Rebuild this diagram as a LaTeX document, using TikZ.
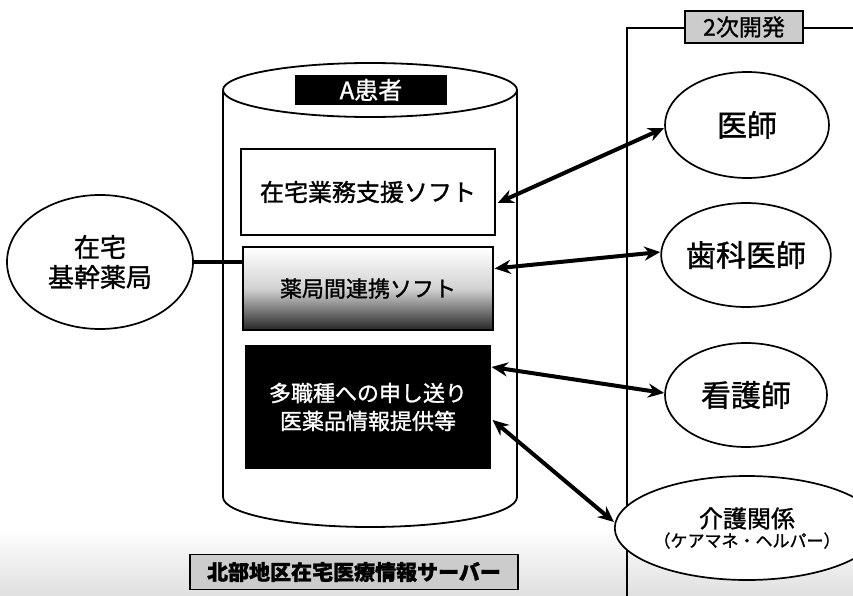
\documentclass[tikz,border=0pt]{standalone}
\usepackage{fontspec}
\setmainfont{Noto Sans CJK JP}[FakeBold=1.2]
\usetikzlibrary{arrows.meta,shapes.geometric}
\begin{document}
\begin{tikzpicture}[x=1pt,y=1pt,
  oval/.style={draw,line width=1.7pt,ellipse,inner sep=0pt,fill=white},
  whitebox/.style={draw,line width=1.3pt,inner sep=0pt,fill=white},
  blackbox/.style={draw,line width=1.2pt,fill=black,text=white,inner sep=0pt,align=center},
  grainbox/.style={draw,line width=1.8pt,fill=gray!40,inner sep=0pt},
  link/.style={line width=4pt,{Stealth[length=16pt,width=14pt]}-{Stealth[length=16pt,width=14pt]}},
  thickline/.style={line width=3.6pt},
  frame/.style={line width=1.5pt}]
\useasboundingbox (0,0) rectangle (853,-596);
\fill[white] (0,0) rectangle (853,-596);
% speckled ground at the bottom
\shade[top color=white,bottom color=gray!25] (0,-528) rectangle (853,-596);

% frame of the second development
\draw[frame] (853,-28) -- (627,-28) -- (627,-596);
\node[grainbox,minimum width=118pt,minimum height=32pt,font=\fontsize{23}{26}\selectfont] (dev) at (744,-27) {2次開発};

% cylinder (server)
\fill[white] (223,-90) -- (223,-497) arc[start angle=180,end angle=360,x radius=147,y radius=30] -- (517,-90) -- cycle;
\draw[line width=1.8pt] (223,-90) -- (223,-497) arc[start angle=180,end angle=360,x radius=147,y radius=30] -- (517,-90);
\draw[line width=1.8pt,fill=white] (370,-90) ellipse[x radius=147,y radius=27];
\node[fill=black,text=white,minimum width=152pt,minimum height=30pt,inner sep=0pt,font=\fontsize{24}{26}\selectfont] (patient) at (371,-90) {A患者};

\node[whitebox,minimum width=254pt,minimum height=86pt,font=\fontsize{24}{26}\selectfont] (box1) at (368,-192) {在宅業務支援ソフト};
\node[draw,line width=1.3pt,inner sep=0pt,minimum width=250pt,minimum height=83pt,
      top color=white,bottom color=black!85,middle color=gray!35,font=\fontsize{22}{24}\selectfont] (box2) at (368,-288.5) {薬局間連携ソフト};
\node[blackbox,minimum width=244pt,minimum height=123pt,font=\fontsize{22}{28}\selectfont] (box3) at (368,-407) {多職種への申し送り\\医薬品情報提供等};

\node[grainbox,minimum width=328pt,minimum height=35pt,font=\bfseries\fontsize{21}{24}\selectfont] (server) at (354,-572) {北部地区在宅医療情報サーバー};

% left pharmacy
\node[oval,minimum width=186pt,minimum height=134pt,align=center,font=\fontsize{26}{30}\selectfont] (hub) at (100,-262) {在宅\\基幹薬局};

% right side professions
\node[oval,minimum width=164pt,minimum height=106pt,font=\fontsize{30}{32}\selectfont] (doctor) at (747,-125) {医師};
\node[oval,minimum width=162pt,minimum height=104pt,font=\fontsize{30}{32}\selectfont] (dentist) at (746,-255) {歯科医師};
\node[oval,minimum width=162pt,minimum height=104pt,font=\fontsize{30}{32}\selectfont] (nurse) at (746,-395) {看護師};
\node[oval,minimum width=204pt,minimum height=104pt,align=center] (care) at (747,-528)
  {{\fontsize{24}{26}\selectfont 介護関係}\\[2pt]{\fontsize{17}{19}\selectfont （ケアマネ・ヘルパー）}};

% connectors
\draw[thickline] (hub.east) -- (hub.east -| box2.west);
\draw[link] ([xshift=2pt,yshift=-11pt]box1.east) -- ([yshift=-3pt]doctor.west);
\draw[link] ([xshift=1pt,yshift=20pt]box2.east) -- ([yshift=3pt]dentist.west);
\draw[link] ([xshift=1pt,yshift=40pt]box3.east) -- ([yshift=2pt]nurse.west);
\draw[link] ([xshift=2pt,yshift=-13pt]box3.east) -- ([yshift=6pt]care.west);
\end{tikzpicture}
\end{document}
